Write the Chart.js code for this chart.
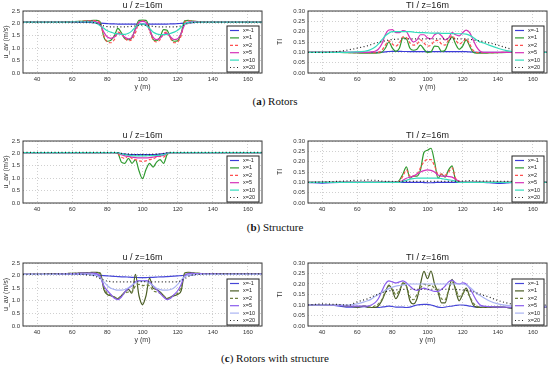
<!DOCTYPE html>
<html lang="en">
<head>
<meta charset="UTF-8">
<title>u and TI profiles at z=16m</title>
<script src="https://cdn.jsdelivr.net/npm/chart.js"></script>
<style>
  body { margin: 0; background: #fff; width: 550px; height: 369px; overflow: hidden; position: relative; }
  canvas { position: absolute; }
  .cap { position: absolute; left: 0; width: 550px; text-align: center; font: 11px "Liberation Serif", serif; color: #111; line-height: 13px; }
</style>
</head>
<body>
<canvas id="uA" width="270" height="93" style="left:0;top:0"></canvas>
<canvas id="tA" width="275" height="93" style="left:275px;top:0"></canvas>
<div class="cap" style="top:95px">(<b>a</b>) Rotors</div>
<canvas id="uB" width="270" height="85" style="left:0;top:130px"></canvas>
<canvas id="tB" width="275" height="85" style="left:275px;top:130px"></canvas>
<div class="cap" style="top:221px">(<b>b</b>) Structure</div>
<canvas id="uC" width="270" height="94" style="left:0;top:252px"></canvas>
<canvas id="tC" width="275" height="94" style="left:275px;top:252px"></canvas>
<div class="cap" style="top:352px">(<b>c</b>) Rotors with structure</div>
<script>
// lateral position y (m), shared by every series
const POS = [32, 40, 50, 55, 60, 64, 66, 68,
  70, 72, 74, 76, 78, 80, 82, 84, 86, 88, 90, 92, 94, 96, 98, 100, 102, 104, 106, 108, 110, 112, 114, 116, 118, 120, 122, 124, 126, 128, 130,
  132, 135, 140, 145, 150, 160, 168];
const SERIES = ['x=-1', 'x=1', 'x=2', 'x=5', 'x=10', 'x=20'];
const X_TICKS = [40, 60, 80, 100, 120, 140, 160];
const U_TICKS = [0, 0.5, 1, 1.5, 2, 2.5];
const TI_TICKS = [0, 0.05, 0.1, 0.15, 0.2, 0.25, 0.3];

// (a) rotors
const U_ROTORS = [
  [2.04,2.04,2.04,2.04,2.04,2.04,2.04,2.04, 2.04,2.03,2.02,2.01,2.0,1.99,1.98,1.98,1.97,1.97,1.97,1.97,1.97,1.97,1.97,1.97,1.97,1.97,1.97,1.97,1.97,1.97,1.97,1.98,1.98,1.99,2.0,2.01,2.02,2.03,2.04, 2.04,2.04,2.04,2.04,2.04,2.04,2.04],
  [2.05,2.05,2.05,2.06,2.07,2.08,2.09,2.1, 2.11,2.12,2.12,2.05,1.45,1.28,1.32,1.5,1.8,1.62,1.38,1.34,1.42,1.8,2.12,2.13,2.12,1.8,1.36,1.3,1.45,1.75,1.72,1.4,1.28,1.3,1.6,2.1,2.12,2.1,2.08, 2.07,2.06,2.05,2.05,2.05,2.05,2.05],
  [2.05,2.05,2.05,2.06,2.07,2.08,2.09,2.1, 2.1,2.11,2.1,2.0,1.5,1.25,1.22,1.35,1.65,1.58,1.4,1.3,1.35,1.62,2.05,2.1,2.05,1.7,1.35,1.25,1.35,1.6,1.65,1.38,1.22,1.25,1.5,2.05,2.1,2.1,2.08, 2.07,2.06,2.05,2.05,2.05,2.05,2.05],
  [2.05,2.05,2.05,2.05,2.06,2.07,2.07,2.08, 2.08,2.08,2.05,1.95,1.65,1.45,1.4,1.45,1.6,1.56,1.44,1.38,1.45,1.75,2.05,2.08,2.05,1.75,1.45,1.35,1.4,1.55,1.6,1.45,1.35,1.38,1.6,1.95,2.05,2.07,2.07, 2.06,2.05,2.05,2.05,2.05,2.05,2.05],
  [2.05,2.05,2.05,2.05,2.06,2.06,2.06,2.06, 2.06,2.05,2.0,1.9,1.8,1.7,1.65,1.6,1.58,1.56,1.56,1.6,1.7,1.85,1.95,1.97,1.92,1.8,1.65,1.58,1.55,1.55,1.56,1.6,1.65,1.72,1.85,1.98,2.04,2.05,2.05, 2.05,2.05,2.05,2.05,2.05,2.05,2.05],
  [2.05,2.05,2.05,2.05,2.05,2.05,2.05,2.05, 2.05,2.03,2.0,1.95,1.9,1.87,1.86,1.86,1.86,1.86,1.86,1.87,1.88,1.9,1.92,1.93,1.92,1.9,1.88,1.87,1.86,1.86,1.86,1.86,1.86,1.87,1.9,1.95,2.0,2.03,2.04, 2.05,2.05,2.05,2.05,2.05,2.05,2.05]
];
const TI_ROTORS = [
  [0.1,0.1,0.1,0.1,0.1,0.1,0.1,0.1, 0.1,0.1,0.101,0.102,0.104,0.105,0.105,0.105,0.104,0.104,0.103,0.103,0.103,0.103,0.103,0.103,0.103,0.103,0.103,0.103,0.103,0.103,0.103,0.103,0.103,0.103,0.103,0.102,0.101,0.1,0.1, 0.1,0.1,0.1,0.1,0.1,0.1,0.1],
  [0.1,0.1,0.1,0.098,0.097,0.096,0.096,0.096, 0.096,0.097,0.1,0.12,0.15,0.12,0.105,0.12,0.17,0.165,0.12,0.11,0.115,0.135,0.115,0.1,0.102,0.13,0.128,0.105,0.11,0.15,0.175,0.14,0.115,0.13,0.16,0.13,0.1,0.096,0.096, 0.096,0.097,0.098,0.1,0.1,0.1,0.1],
  [0.1,0.1,0.1,0.099,0.098,0.098,0.098,0.098, 0.098,0.1,0.11,0.135,0.155,0.14,0.13,0.145,0.175,0.172,0.145,0.135,0.14,0.16,0.145,0.13,0.135,0.155,0.158,0.14,0.135,0.16,0.18,0.16,0.14,0.15,0.165,0.14,0.11,0.1,0.098, 0.098,0.098,0.099,0.1,0.1,0.1,0.1],
  [0.1,0.1,0.1,0.1,0.1,0.1,0.1,0.102, 0.105,0.115,0.14,0.185,0.208,0.21,0.195,0.195,0.205,0.2,0.17,0.15,0.16,0.185,0.185,0.17,0.165,0.185,0.193,0.18,0.16,0.17,0.195,0.185,0.18,0.195,0.207,0.195,0.16,0.125,0.105, 0.1,0.1,0.1,0.1,0.1,0.1,0.1],
  [0.1,0.1,0.1,0.1,0.102,0.105,0.108,0.115, 0.125,0.14,0.16,0.18,0.193,0.2,0.2,0.2,0.2,0.2,0.2,0.198,0.196,0.195,0.195,0.194,0.193,0.193,0.193,0.192,0.192,0.192,0.191,0.19,0.19,0.19,0.188,0.182,0.172,0.16,0.15, 0.145,0.135,0.12,0.108,0.102,0.1,0.1],
  [0.1,0.1,0.105,0.112,0.12,0.128,0.132,0.138, 0.143,0.148,0.152,0.156,0.16,0.162,0.163,0.164,0.165,0.165,0.165,0.165,0.165,0.165,0.165,0.165,0.165,0.165,0.165,0.165,0.165,0.165,0.165,0.165,0.165,0.165,0.164,0.163,0.16,0.157,0.155, 0.152,0.146,0.135,0.122,0.112,0.102,0.1]
];

// (b) structure
const U_STRUCT = [
  [2.03,2.03,2.03,2.03,2.03,2.03,2.03,2.03, 2.03,2.03,2.03,2.03,2.03,2.03,2.03,2.03,2.02,1.99,1.97,1.96,1.95,1.95,1.95,1.95,1.95,1.95,1.95,1.96,1.97,1.99,2.02,2.03,2.03,2.03,2.03,2.03,2.03,2.03,2.03, 2.03,2.03,2.03,2.03,2.03,2.03,2.03],
  [2.03,2.03,2.03,2.03,2.03,2.03,2.03,2.03, 2.03,2.03,2.03,2.03,2.03,2.03,2.03,2.03,2.0,1.65,1.6,1.8,1.6,1.75,1.3,0.98,1.35,1.6,1.45,1.65,1.75,1.6,1.95,2.03,2.03,2.03,2.03,2.03,2.03,2.03,2.03, 2.03,2.03,2.03,2.03,2.03,2.03,2.03],
  [2.03,2.03,2.03,2.03,2.03,2.03,2.03,2.03, 2.03,2.03,2.03,2.03,2.03,2.03,2.03,2.03,2.0,1.85,1.8,1.9,1.8,1.75,1.7,1.68,1.7,1.75,1.78,1.85,1.88,1.85,1.98,2.03,2.03,2.03,2.03,2.03,2.03,2.03,2.03, 2.03,2.03,2.03,2.03,2.03,2.03,2.03],
  [2.03,2.03,2.03,2.03,2.03,2.03,2.03,2.03, 2.03,2.03,2.03,2.03,2.03,2.03,2.03,2.03,2.02,1.95,1.9,1.88,1.85,1.83,1.82,1.82,1.82,1.83,1.85,1.88,1.9,1.92,2.0,2.03,2.03,2.03,2.03,2.03,2.03,2.03,2.03, 2.03,2.03,2.03,2.03,2.03,2.03,2.03],
  [2.03,2.03,2.03,2.03,2.03,2.03,2.03,2.03, 2.03,2.03,2.03,2.03,2.03,2.03,2.03,2.03,2.03,1.98,1.95,1.93,1.91,1.9,1.9,1.9,1.9,1.91,1.91,1.92,1.93,1.95,2.0,2.03,2.03,2.03,2.03,2.03,2.03,2.03,2.03, 2.03,2.03,2.03,2.03,2.03,2.03,2.03],
  [2.04,2.04,2.04,2.04,2.04,2.04,2.04,2.04, 2.04,2.04,2.04,2.04,2.04,2.04,2.04,2.04,2.03,2.0,1.98,1.97,1.96,1.95,1.95,1.95,1.95,1.95,1.96,1.97,1.98,2.0,2.02,2.04,2.04,2.04,2.04,2.04,2.04,2.04,2.04, 2.04,2.04,2.04,2.04,2.04,2.04,2.04]
];
const TI_STRUCT = [
  [0.1,0.096,0.1,0.1,0.1,0.1,0.1,0.1, 0.1,0.1,0.1,0.1,0.1,0.1,0.1,0.1,0.1,0.1,0.1,0.1,0.1,0.1,0.099,0.098,0.098,0.099,0.1,0.1,0.1,0.1,0.1,0.1,0.1,0.1,0.1,0.1,0.1,0.1,0.1, 0.1,0.098,0.095,0.097,0.1,0.1,0.1],
  [0.1,0.1,0.1,0.1,0.1,0.1,0.1,0.1, 0.1,0.1,0.1,0.1,0.1,0.1,0.1,0.11,0.14,0.175,0.12,0.13,0.13,0.16,0.245,0.255,0.265,0.2,0.12,0.14,0.125,0.16,0.18,0.11,0.1,0.1,0.1,0.1,0.1,0.1,0.1, 0.1,0.1,0.1,0.1,0.1,0.1,0.1],
  [0.1,0.1,0.1,0.1,0.1,0.1,0.1,0.1, 0.1,0.1,0.1,0.1,0.1,0.1,0.1,0.105,0.13,0.16,0.13,0.13,0.14,0.17,0.2,0.21,0.21,0.18,0.14,0.14,0.135,0.15,0.17,0.12,0.105,0.1,0.1,0.1,0.1,0.1,0.1, 0.1,0.1,0.1,0.1,0.1,0.1,0.1],
  [0.1,0.1,0.1,0.1,0.1,0.1,0.1,0.1, 0.1,0.1,0.1,0.1,0.1,0.1,0.1,0.1,0.11,0.12,0.125,0.13,0.14,0.15,0.157,0.16,0.158,0.15,0.135,0.13,0.13,0.128,0.125,0.115,0.105,0.1,0.1,0.1,0.1,0.1,0.1, 0.1,0.1,0.1,0.1,0.1,0.1,0.1],
  [0.1,0.1,0.1,0.1,0.1,0.1,0.1,0.1, 0.1,0.1,0.1,0.1,0.1,0.1,0.1,0.1,0.105,0.11,0.115,0.118,0.12,0.12,0.12,0.12,0.12,0.12,0.12,0.118,0.115,0.112,0.11,0.105,0.1,0.1,0.1,0.1,0.1,0.1,0.1, 0.1,0.1,0.1,0.1,0.1,0.1,0.1],
  [0.1,0.102,0.105,0.107,0.11,0.11,0.112,0.11, 0.11,0.108,0.106,0.105,0.105,0.104,0.104,0.104,0.105,0.105,0.105,0.105,0.105,0.105,0.105,0.105,0.105,0.105,0.105,0.105,0.105,0.105,0.105,0.105,0.105,0.106,0.107,0.108,0.108,0.107,0.106, 0.106,0.106,0.105,0.105,0.105,0.102,0.1]
];

// (c) rotors with structure
const U_ROTSTRUCT = [
  [2.05,2.05,2.05,2.05,2.05,2.05,2.05,2.05, 2.04,2.03,2.02,2.01,2.0,1.99,1.98,1.97,1.96,1.95,1.95,1.94,1.93,1.93,1.92,1.92,1.92,1.93,1.93,1.94,1.95,1.95,1.96,1.97,1.98,1.99,2.0,2.01,2.02,2.03,2.04, 2.05,2.05,2.05,2.05,2.05,2.05,2.05],
  [2.05,2.05,2.07,2.08,2.09,2.1,2.11,2.12, 2.12,2.13,2.13,2.1,1.45,1.25,1.2,1.15,1.08,1.2,1.35,1.45,1.3,2.05,1.2,0.85,1.2,1.9,1.5,1.45,1.35,1.2,1.08,1.15,1.2,1.25,1.4,2.1,2.13,2.12,2.1, 2.09,2.08,2.07,2.07,2.06,2.06,2.06],
  [2.05,2.05,2.07,2.08,2.09,2.1,2.11,2.12, 2.12,2.12,2.12,2.05,1.55,1.3,1.22,1.15,1.1,1.2,1.3,1.35,1.35,1.6,1.65,1.6,1.62,1.6,1.4,1.35,1.3,1.2,1.1,1.15,1.22,1.3,1.55,2.05,2.12,2.12,2.1, 2.09,2.08,2.07,2.07,2.06,2.06,2.06],
  [2.05,2.05,2.06,2.07,2.08,2.09,2.1,2.1, 2.1,2.1,2.08,1.95,1.6,1.4,1.25,1.1,1.05,1.15,1.35,1.5,1.6,1.75,1.8,1.8,1.8,1.75,1.6,1.45,1.3,1.15,1.05,1.1,1.25,1.4,1.65,2.0,2.08,2.1,2.08, 2.08,2.07,2.07,2.06,2.06,2.06,2.06],
  [2.05,2.05,2.05,2.06,2.06,2.06,2.06,2.06, 2.05,2.03,2.0,1.9,1.75,1.6,1.5,1.45,1.42,1.42,1.45,1.52,1.62,1.72,1.77,1.78,1.77,1.7,1.6,1.5,1.45,1.42,1.42,1.45,1.52,1.65,1.82,1.95,2.02,2.04,2.05, 2.05,2.05,2.05,2.05,2.05,2.05,2.05],
  [2.05,2.06,2.07,2.07,2.07,2.06,2.05,2.03, 2.02,2.0,1.95,1.88,1.82,1.78,1.76,1.75,1.75,1.75,1.75,1.75,1.75,1.75,1.76,1.76,1.76,1.75,1.75,1.75,1.75,1.75,1.75,1.75,1.75,1.76,1.8,1.88,1.96,2.02,2.04, 2.05,2.06,2.07,2.07,2.07,2.07,2.07]
];
const TI_ROTSTRUCT = [
  [0.1,0.1,0.095,0.09,0.09,0.092,0.09,0.088, 0.088,0.088,0.09,0.092,0.095,0.093,0.09,0.09,0.09,0.088,0.09,0.095,0.1,0.102,0.103,0.103,0.1,0.095,0.09,0.088,0.09,0.093,0.095,0.098,0.1,0.1,0.098,0.095,0.092,0.09,0.09, 0.09,0.09,0.09,0.088,0.085,0.088,0.092],
  [0.1,0.1,0.098,0.095,0.09,0.095,0.09,0.088, 0.088,0.095,0.12,0.16,0.195,0.17,0.13,0.16,0.205,0.19,0.12,0.105,0.13,0.2,0.26,0.225,0.262,0.2,0.16,0.11,0.11,0.17,0.222,0.17,0.12,0.15,0.18,0.14,0.1,0.09,0.088, 0.088,0.088,0.09,0.088,0.085,0.088,0.092],
  [0.1,0.1,0.098,0.095,0.092,0.095,0.092,0.09, 0.095,0.105,0.125,0.165,0.19,0.175,0.15,0.17,0.2,0.19,0.14,0.125,0.15,0.18,0.2,0.19,0.195,0.18,0.17,0.13,0.125,0.17,0.21,0.18,0.14,0.155,0.17,0.14,0.11,0.095,0.09, 0.09,0.09,0.09,0.088,0.086,0.088,0.092],
  [0.1,0.1,0.098,0.095,0.095,0.095,0.095,0.1, 0.11,0.13,0.165,0.2,0.215,0.21,0.205,0.21,0.215,0.205,0.19,0.175,0.17,0.175,0.18,0.175,0.17,0.165,0.165,0.175,0.19,0.21,0.218,0.205,0.2,0.205,0.2,0.18,0.15,0.12,0.1, 0.095,0.092,0.09,0.09,0.088,0.09,0.092],
  [0.1,0.1,0.1,0.1,0.105,0.115,0.12,0.128, 0.14,0.15,0.16,0.17,0.178,0.185,0.19,0.193,0.196,0.198,0.2,0.2,0.2,0.2,0.2,0.2,0.2,0.2,0.2,0.2,0.2,0.2,0.2,0.2,0.2,0.2,0.195,0.185,0.17,0.155,0.145, 0.135,0.12,0.105,0.098,0.095,0.095,0.095],
  [0.1,0.105,0.102,0.1,0.115,0.125,0.13,0.138, 0.145,0.152,0.158,0.163,0.167,0.17,0.172,0.173,0.174,0.175,0.175,0.175,0.175,0.175,0.175,0.175,0.175,0.175,0.175,0.175,0.175,0.175,0.175,0.174,0.173,0.172,0.17,0.167,0.163,0.158,0.152, 0.146,0.138,0.122,0.11,0.102,0.1,0.1]
];

// line styles, matplotlib-like
const STYLE_AB = [
  { c: '#3c3cd8', d: [] }, { c: '#2f9a2f', d: [] }, { c: '#ff5050', d: [3, 2] },
  { c: '#d632b8', d: [] }, { c: '#33dcbc', d: [] }, { c: '#222222', d: [1, 2.5] }
];
const STYLE_C = [
  { c: '#4646d8', d: [] }, { c: '#4b5e26', d: [] }, { c: '#6f8040', d: [3, 2] },
  { c: '#8a5cee', d: [] }, { c: '#aab4f2', d: [] }, { c: '#222222', d: [1, 2.5] }
];

const TICK_FONT = { family: 'Liberation Sans', size: 6 };
const AX_FONT = { family: 'Liberation Sans', size: 7 };

// frame, axes title and in-plot legend
const axesDeco = {
  id: 'axesDeco',
  afterDatasetsDraw(chart, args, opts) {
    const { ctx, chartArea: a } = chart;
    ctx.save();
    ctx.strokeStyle = '#3a3a3a';
    ctx.lineWidth = 1;
    ctx.strokeRect(a.left, a.top, a.right - a.left, a.bottom - a.top);

    ctx.fillStyle = '#1a1a1a';
    ctx.font = '9px "Liberation Sans"';
    ctx.textAlign = 'center';
    ctx.textBaseline = 'middle';
    ctx.fillText(opts.text, (a.left + a.right) / 2, a.top - 5.5);

    const w = 32, h = 46;
    const x0 = a.right - w - 3, y0 = a.bottom - h - 1;
    ctx.fillStyle = '#fff';
    ctx.fillRect(x0, y0, w, h);
    ctx.strokeStyle = '#222';
    ctx.strokeRect(x0, y0, w, h);
    ctx.textAlign = 'left';
    ctx.font = '5.5px "Liberation Sans"';
    chart.data.datasets.forEach((ds, i) => {
      const y = y0 + 4.5 + i * 7.4;
      ctx.strokeStyle = ds.borderColor;
      ctx.lineWidth = 1.2;
      ctx.setLineDash(ds.borderDash);
      ctx.beginPath();
      ctx.moveTo(x0 + 3, y);
      ctx.lineTo(x0 + 12, y);
      ctx.stroke();
      ctx.setLineDash([]);
      ctx.fillStyle = '#222';
      ctx.fillText(ds.label, x0 + 16, y);
    });
    ctx.restore();
  }
};

function makeChart(id, rows, style, o) {
  const datasets = rows.map((vals, i) => ({
    label: SERIES[i],
    data: POS.map((p, k) => ({ x: p, y: vals[k] })),
    borderColor: style[i].c,
    borderDash: style[i].d,
    borderWidth: 1.2,
    pointRadius: 0,
    cubicInterpolationMode: 'monotone',
    fill: false,
    order: SERIES.length - i
  }));
  return new Chart(document.getElementById(id), {
    type: 'line',
    data: { datasets },
    plugins: [axesDeco],
    options: {
      responsive: false,
      animation: false,
      devicePixelRatio: 1,
      layout: { padding: { top: 11, right: o.right, left: 0, bottom: 0 } },
      plugins: {
        legend: { display: false },
        tooltip: { enabled: false },
        axesDeco: { text: o.title }
      },
      scales: {
        x: {
          type: 'linear', min: 32, max: 168,
          afterBuildTicks: s => { s.ticks = X_TICKS.map(v => ({ value: v })); },
          afterFit: s => { s.height = o.xh; },
          ticks: { font: TICK_FONT, color: '#333', padding: 3, maxRotation: 0, autoSkip: false, callback: v => String(v) },
          grid: { color: '#c4c4c4', lineWidth: 0.8, drawTicks: false },
          border: { display: false, dash: [1, 2] },
          title: { display: o.xTitle, text: 'y (m)', font: AX_FONT, color: '#333', padding: { top: 0, bottom: 2 } }
        },
        y: {
          min: 0, max: o.ticks[o.ticks.length - 1],
          afterBuildTicks: s => { s.ticks = o.ticks.map(v => ({ value: v })); },
          afterFit: s => { s.width = o.yw; },
          ticks: { font: TICK_FONT, color: '#333', padding: 3, autoSkip: false, callback: v => v.toFixed(o.dec) },
          grid: { color: '#c4c4c4', lineWidth: 0.8, drawTicks: false },
          border: { display: false, dash: [1, 2] },
          title: { display: true, text: o.yTitle, font: AX_FONT, color: '#333', padding: { top: o.yTitlePad, bottom: 0 } }
        }
      }
    }
  });
}

const U_OPTS = { title: 'u / z=16m', yTitle: 'u_av (m/s)', ticks: U_TICKS, dec: 1, yw: 23, right: 8, yTitlePad: 2 };
const TI_OPTS = { title: 'TI / z=16m', yTitle: 'TI', ticks: TI_TICKS, dec: 2, yw: 33, right: 3, yTitlePad: 1 };

makeChart('uA', U_ROTORS, STYLE_AB, { ...U_OPTS, xh: 20, xTitle: true });
makeChart('tA', TI_ROTORS, STYLE_AB, { ...TI_OPTS, xh: 20, xTitle: true });
makeChart('uB', U_STRUCT, STYLE_AB, { ...U_OPTS, xh: 12, xTitle: false });
makeChart('tB', TI_STRUCT, STYLE_AB, { ...TI_OPTS, xh: 12, xTitle: false });
makeChart('uC', U_ROTSTRUCT, STYLE_C, { ...U_OPTS, xh: 20, xTitle: true });
makeChart('tC', TI_ROTSTRUCT, STYLE_C, { ...TI_OPTS, xh: 20, xTitle: true });
</script>
</body>
</html>
